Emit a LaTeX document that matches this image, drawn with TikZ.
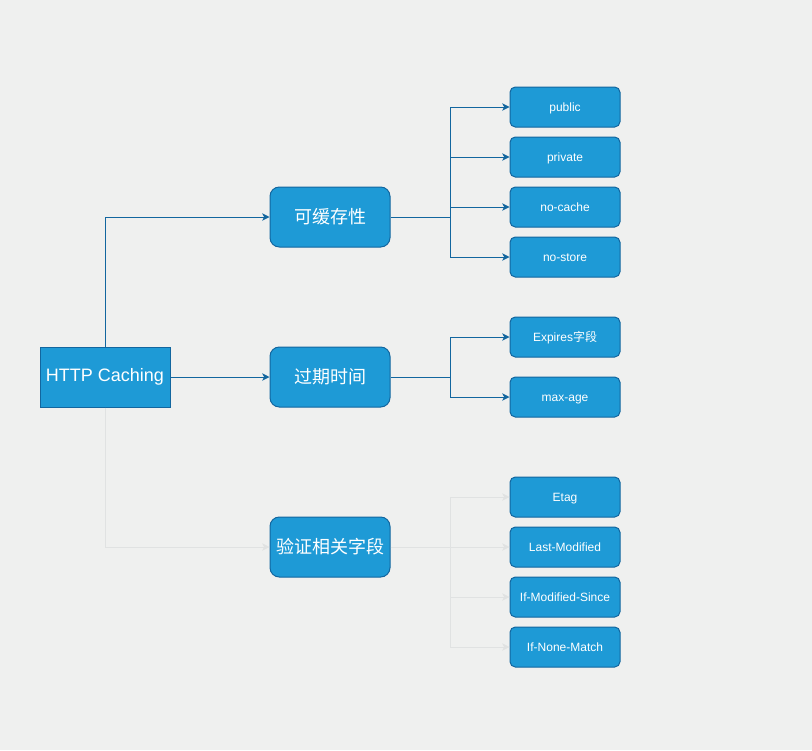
\documentclass[tikz,border=0pt]{standalone}
\usepackage{fontspec}
\setmainfont{Liberation Sans}
\newfontfamily\cjk{Noto Sans CJK SC}
\usetikzlibrary{arrows.meta}
\definecolor{bg}{HTML}{EFF0EF}
\definecolor{boxfill}{HTML}{1E9AD6}
\definecolor{boxline}{HTML}{12669F}
\definecolor{faint}{HTML}{E0E2E2}
\tikzset{
  px/.style={x=0.75pt,y=-0.75pt},
  rootbox/.style={draw=boxline,fill=boxfill,line width=0.75pt,minimum width=97.5pt,minimum height=45pt,inner sep=0pt,text=white,font=\fontsize{13.5}{16}\selectfont},
  midbox/.style={draw=boxline,fill=boxfill,line width=0.75pt,rounded corners=7pt,minimum width=90pt,minimum height=45pt,inner sep=0pt,text=white,font=\cjk\fontsize{13.5}{16}\selectfont},
  leafbox/.style={draw=boxline,fill=boxfill,line width=0.75pt,rounded corners=4pt,minimum width=82.5pt,minimum height=30pt,inner sep=0pt,text=white,text height=7.2pt,text depth=0pt,font=\fontsize{9}{11}\selectfont},
  link/.style={draw=boxline,line width=0.75pt,-{Stealth[length=5.5pt,width=5.5pt,inset=1.5pt]}},
  faintlink/.style={draw=faint,line width=0.75pt,-{Stealth[length=5.5pt,width=5.5pt,inset=1.5pt]}},
}
\begin{document}
\begin{tikzpicture}[px]
\fill[bg] (0,0) rectangle (812,750);
\useasboundingbox (0,0) rectangle (812,750);

\node[rootbox] (root) at (105,377) {HTTP Caching};
\node[midbox] (cache) at (330,217) {可缓存性};
\node[midbox] (expire) at (330,377) {过期时间};
\node[midbox] (valid) at (330,547) {验证相关字段};

\node[leafbox] (public) at (565,107) {public};
\node[leafbox] (private) at (565,157) {private};
\node[leafbox] (nocache) at (565,207) {no-cache};
\node[leafbox] (nostore) at (565,257) {no-store};
\node[leafbox] (expires) at (565,337) {Expires{\cjk 字段}};
\node[leafbox] (maxage) at (565,397) {max-age};
\node[leafbox] (etag) at (565,497) {Etag};
\node[leafbox] (lastmod) at (565,547) {Last-Modified};
\node[leafbox] (ifmod) at (565,597) {If-Modified-Since};
\node[leafbox] (ifnone) at (565,647) {If-None-Match};

% root connectors
\draw[link] (root.north) |- (cache.west);
\draw[link] (root.east) -- (expire.west);
\draw[faintlink] (root.south) |- (valid.west);

% cache children
\coordinate (cj) at (450,217);
\draw[boxline,line width=0.75pt] (cache.east) -- (cj);
\foreach \n in {public,private,nocache,nostore}
  \draw[link] (cj) |- (\n.west);

% expire children
\coordinate (ej) at (450,377);
\draw[boxline,line width=0.75pt] (expire.east) -- (ej);
\foreach \n in {expires,maxage}
  \draw[link] (ej) |- (\n.west);

% validation children
\coordinate (vj) at (450,547);
\draw[faint,line width=0.75pt] (valid.east) -- (vj);
\foreach \n in {etag,lastmod,ifmod,ifnone}
  \draw[faintlink] (vj) |- (\n.west);
\end{tikzpicture}
\end{document}
